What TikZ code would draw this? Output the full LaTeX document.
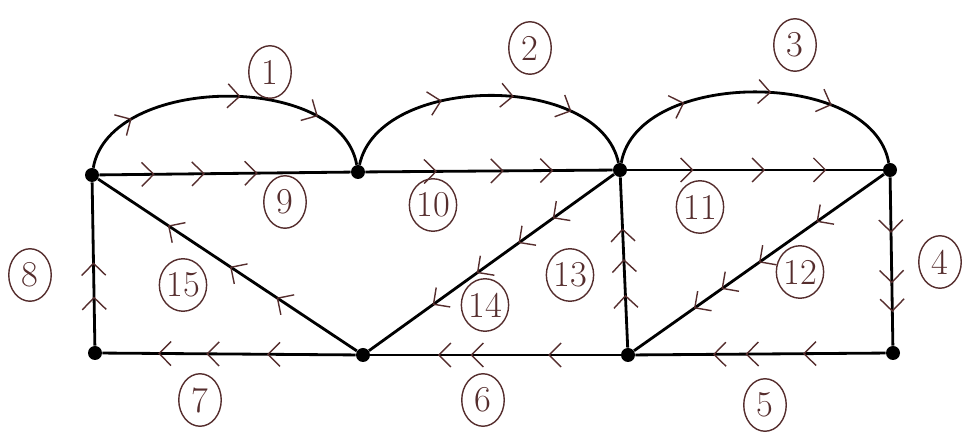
\documentclass[tikz,border=0pt]{standalone}
\usepackage{tikz}
\usetikzlibrary{arrows.meta, decorations.markings, shapes.geometric}
\definecolor{pen}{RGB}{85,45,45}

\begin{document}
\begin{tikzpicture}[x=0.02cm, y=-0.02cm,
    vertice/.style={circle, fill=black, inner sep=0pt, minimum size=0.28cm},
    arista/.style={line width=1.6pt},
    fl/.style={postaction={decorate, decoration={markings,
        mark=at position #1 with {\arrow[pen, line width=0.8pt]{Straight Barb[length=2.4mm, width=4.8mm]}}}}},
    etiq/.style={draw=pen, text=pen, ellipse, line width=0.8pt, minimum width=0.85cm,
        minimum height=1.05cm, inner sep=0pt, font=\huge}]
    \useasboundingbox (0,0) rectangle (975,445);
    % Vertices
    \node[vertice] (A) at (92,175) {};
    \node[vertice] (B) at (358,172) {};
    \node[vertice] (C) at (620,170) {};
    \node[vertice] (D) at (890,170) {};
    \node[vertice] (E) at (95,353) {};
    \node[vertice] (F) at (363,355) {};
    \node[vertice] (G) at (628,355) {};
    \node[vertice] (H) at (893,353) {};
    % Arcos superiores
    \draw[arista, fl=0.2, fl=0.55, fl=0.8] (A) to[out=80, in=100, looseness=0.92] (B);
    \draw[arista, fl=0.35, fl=0.58, fl=0.77] (B) to[out=78, in=102, looseness=0.92] (C);
    \draw[arista, fl=0.28, fl=0.55, fl=0.74] (C) to[out=80, in=100, looseness=0.92] (D);
    % Aristas horizontales
    \draw[arista, fl=0.22, fl=0.42, fl=0.63] (A) -- (B);
    \draw[arista, fl=0.29, fl=0.56, fl=0.76] (B) -- (C);
    \draw[arista, fl=0.26, fl=0.54, fl=0.78] (C) -- (D);
    \draw[arista, fl=0.33, fl=0.56, fl=0.69] (H) -- (G);
    \draw[arista, fl=0.29, fl=0.6, fl=0.73] (G) -- (F);
    \draw[arista, fl=0.35, fl=0.59, fl=0.78] (F) -- (E);
    % Verticales y diagonales
    \draw[arista, fl=0.30, fl=0.51] (E) -- (A);
    \draw[arista, fl=0.33, fl=0.63, fl=0.8] (D) -- (H);
    \draw[arista, fl=0.31, fl=0.52, fl=0.7] (G) -- (C);
    \draw[arista, fl=0.27, fl=0.5, fl=0.65, fl=0.76] (D) -- (G);
    \draw[arista, fl=0.25, fl=0.39, fl=0.56, fl=0.74] (C) -- (F);
    \draw[arista, fl=0.31, fl=0.49, fl=0.73] (F) -- (A);
    % Etiquetas
    \node[etiq] (e1) at (270,72) {1};
    \node[etiq] (e2) at (530,48) {2};
    \node[etiq] (e3) at (795,45) {3};
    \node[etiq] (e4) at (940,262) {4};
    \node[etiq] (e5) at (765,405) {5};
    \node[etiq] (e6) at (483,400) {6};
    \node[etiq] (e7) at (200,400) {7};
    \node[etiq] (e8) at (30,275) {8};
    \node[etiq] (e9) at (285,202) {9};
    \node[etiq] (e10) at (433,205) {10};
    \node[etiq] (e11) at (700,207) {11};
    \node[etiq] (e12) at (800,272) {12};
    \node[etiq] (e13) at (570,275) {13};
    \node[etiq] (e14) at (485,305) {14};
    \node[etiq] (e15) at (183,285) {15};
\end{tikzpicture}
\end{document}
